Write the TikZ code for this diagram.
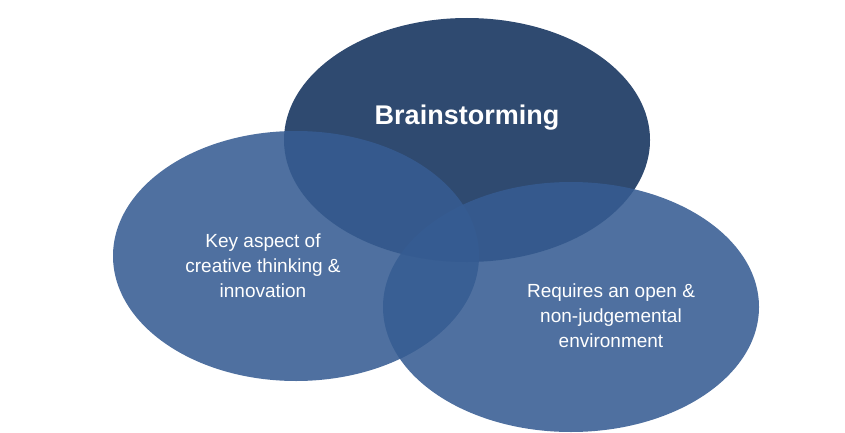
\documentclass[tikz,border=0pt]{standalone}
\usepackage{fontspec}
\setmainfont{Liberation Sans}
\definecolor{topc}{RGB}{47,74,112}
\definecolor{sidec}{RGB}{54,92,146}
\begin{document}
\begin{tikzpicture}[x=1pt,y=-1pt,
  bubble/.style={fill=sidec,fill opacity=0.875,text opacity=1,draw=none},
  lbl/.style={text=white,align=center,font=\fontsize{19}{25}\selectfont}]
\useasboundingbox (0,0) rectangle (845,433);
\fill[topc] (467,140) ellipse [x radius=183, y radius=122];
\path[bubble] (296,256) ellipse [x radius=183, y radius=125];
\path[bubble] (571,307) ellipse [x radius=188, y radius=125];
\node[lbl,font=\fontsize{27}{30}\selectfont\bfseries] (t) at (467,118) {Brainstorming};
\node[lbl] (l) at (263,266) {Key aspect of\\creative thinking \&\\innovation};
\node[lbl] (r) at (611,316) {Requires an open \&\\non-judgemental\\environment};
\end{tikzpicture}
\end{document}
